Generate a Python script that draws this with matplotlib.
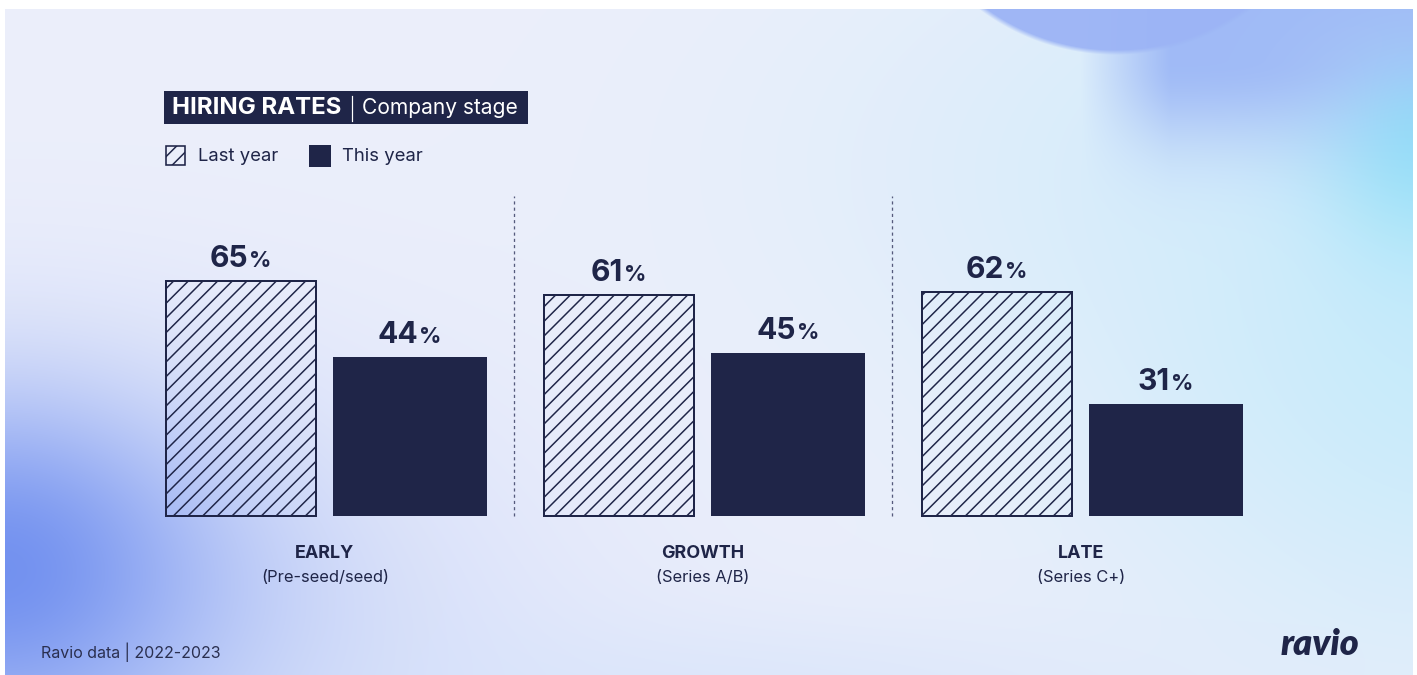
import numpy as np
import matplotlib
matplotlib.use("Agg")
import matplotlib.pyplot as plt
from matplotlib.patches import Rectangle

W, H = 1417, 675
DPI = 88

# ---- data -------------------------------------------------------------
stages = ["EARLY", "GROWTH", "LATE"]
stage_notes = ["(Pre-seed/seed)", "(Series A/B)", "(Series C+)"]
series_names = ["Last year", "This year"]
last_year = [65, 61, 62]
this_year = [44, 45, 31]

title_main = "HIRING RATES"
title_sub = "Company stage"
source_note = "Ravio data | 2022-2023"
brand = "ravio"

# ---- style ------------------------------------------------------------
NAVY = "#1f2548"
FONT = "Inter"


def pt(px):
    """pixel size -> points at the figure dpi"""
    return px * 72.0 / DPI


plt.rcParams["font.family"] = [FONT, "DejaVu Sans"]
plt.rcParams["hatch.linewidth"] = pt(1.5)
plt.rcParams["hatch.color"] = NAVY

fig = plt.figure(figsize=(W / DPI, H / DPI), dpi=DPI, facecolor="white")

# ---- soft gradient backdrop --------------------------------------------
bx0, bx1, by0, by1 = 5, 1413, 9, 675
gy, gx = np.mgrid[0:by1 - by0, 0:bx1 - bx0].astype(float)
gx += bx0
gy += by0


def hexrgb(h):
    h = h.lstrip("#")
    return np.array([int(h[i:i + 2], 16) / 255 for i in (0, 2, 4)])


img = np.ones(gx.shape + (3,)) * hexrgb("#eceffb")


def blend(alpha, color):
    global img
    a = np.clip(alpha, 0, 1)[..., None]
    img = img * (1 - a) + hexrgb(color) * a


def gauss(cx, cy, sx, sy):
    return np.exp(-(((gx - cx) / sx) ** 2 + ((gy - cy) / sy) ** 2) / 2)


# right-side cyan wash
blend(0.85 * gauss(1470, 300, 260, 240), "#bdeafb")
blend(0.6 * gauss(1250, 150, 320, 160), "#d2ecfb")
blend(0.9 * gauss(1425, 125, 75, 90), "#8fe1f8")
# broad blue band across the top right
band = np.clip((gx - 1080) / 90, 0, 1) * np.exp(-np.clip(gy - 60, 0, None) ** 2 / (2 * 60 ** 2))
band *= 1 - 0.6 * gauss(1420, 125, 70, 60)
blend(0.95 * band, "#9db8f6")
# sharp-edged blue disc at the top
ell = np.sqrt(((gx - 1115) / 214) ** 2 + ((gy + 150) / 202) ** 2)
disc = np.clip((1 - ell) / 0.025 + 0.5, 0, 1)
blend(0.95 * disc, "#9cb4f5")
# bottom-left blue glow
blend(0.65 * gauss(40, 640, 300, 180), "#adc0f7")
blend(0.92 * gauss(0, 570, 140, 115), "#6c8cef")
# faint glow along the bottom
blend(0.5 * gauss(760, 700, 300, 60), "#cfe0fb")

bg = fig.add_axes([bx0 / W, 1 - by1 / H, (bx1 - bx0) / W, (by1 - by0) / H])
bg.imshow(img, aspect="auto", interpolation="bilinear")
bg.set_axis_off()

# ---- bar chart ---------------------------------------------------------
BASE_PX = 516          # pixel row of the zero line
PX_PER_PCT = 3.615
GROUP_PX = 378
FIRST_CENTER_PX = 325

ax = fig.add_axes([0, 0, 1, 1])
ax.set_xlim(-FIRST_CENTER_PX / GROUP_PX, (W - FIRST_CENTER_PX) / GROUP_PX)
ax.set_ylim(-(H - BASE_PX) / PX_PER_PCT, BASE_PX / PX_PER_PCT)
ax.set_axis_off()
ax.patch.set_alpha(0)

x = np.arange(len(stages))
off = 84.5 / GROUP_PX
bw_last = 150 / GROUP_PX
bw_this = 154 / GROUP_PX

ax.bar(x - off, last_year, width=bw_last, facecolor="none", edgecolor=NAVY,
       linewidth=pt(2), hatch="//", zorder=3)
ax.bar(x + off, this_year, width=bw_this, color=NAVY, linewidth=0, zorder=3)

# dotted dividers between stages
div_top = (BASE_PX - 196) / PX_PER_PCT
for xd in x[:-1] + 0.5:
    ax.plot([xd, xd], [0, div_top], color="#555a7c", lw=pt(1.3),
            linestyle=(0, (2.4, 2.4)), zorder=2)

# stage captions
for xi, name, note in zip(x, stages, stage_notes):
    ax.text(xi, -(553 - BASE_PX) / PX_PER_PCT, name, ha="center", va="center",
            fontsize=pt(18), fontweight="bold", color=NAVY)
    ax.text(xi, -(577 - BASE_PX) / PX_PER_PCT, note, ha="center", va="center",
            fontsize=pt(16.5), color=NAVY)

# value labels: big number + smaller percent sign, centred on the bar
fig.canvas.draw()
renderer = fig.canvas.get_renderer()
label_gap = 14 / PX_PER_PCT
pct_gap = 1
for xs, vals in ((x - off, last_year), (x + off, this_year)):
    for xi, v in zip(xs, vals):
        t_num = ax.text(0, 0, f"{v}", ha="left", va="baseline", fontsize=pt(30),
                        fontweight="bold", color=NAVY, transform=None)
        t_pct = ax.text(0, 0, "%", ha="left", va="baseline", fontsize=pt(22),
                        fontweight="bold", color=NAVY, transform=None)
        w1 = t_num.get_window_extent(renderer).width
        w2 = t_pct.get_window_extent(renderer).width
        cx, cy = ax.transData.transform((xi, v + label_gap))
        left = cx - (w1 + pct_gap + w2) / 2
        t_num.set_position((left, cy))
        t_pct.set_position((left + w1 + pct_gap, cy))

# ---- header, legend, footer (pixel layout, y measured from the top) -----
lay = fig.add_axes([0, 0, 1, 1])
lay.set_xlim(0, W)
lay.set_ylim(H, 0)
lay.set_axis_off()
lay.patch.set_alpha(0)

t_main = lay.text(172, 108.5, title_main, ha="left", va="center",
                  fontsize=pt(24), fontweight="bold", color="white", zorder=5)
fig.canvas.draw()
inv = lay.transData.inverted()
bb = t_main.get_window_extent(renderer)
main_right = inv.transform((bb.x1, bb.y0))[0]
sep_x = main_right + 11
lay.plot([sep_x, sep_x], [96, 121], color="white", lw=pt(1.2), zorder=5)
t_sub = lay.text(sep_x + 10, 108.5, title_sub, ha="left", va="center",
                 fontsize=pt(21), color="white", zorder=5)
fig.canvas.draw()
bb = t_sub.get_window_extent(renderer)
sub_right = inv.transform((bb.x1, bb.y0))[0]
lay.add_patch(Rectangle((164, 91), sub_right + 10 - 164, 33, facecolor=NAVY,
                        edgecolor="none", zorder=4))

# legend
lay.add_patch(Rectangle((166, 146), 19, 19, facecolor="none", edgecolor=NAVY,
                        linewidth=pt(1.6), hatch="//", zorder=4))
lay.text(198, 156.5, series_names[0], ha="left", va="center", fontsize=pt(18.5),
         color=NAVY)
lay.add_patch(Rectangle((309, 145), 22, 22, facecolor=NAVY, edgecolor="none",
                        zorder=4))
lay.text(342, 156.5, series_names[1], ha="left", va="center", fontsize=pt(18.5),
         color=NAVY)

# footer
lay.text(41, 652, source_note, ha="left", va="center", fontsize=pt(16),
         color="#2a2f4f")
lay.text(1359, 655, brand, ha="right", va="baseline", fontsize=pt(36),
         fontweight="heavy", fontstyle="italic", color=NAVY,
         family=["Lato", "DejaVu Sans"])

fig.savefig("out.png", dpi=DPI, facecolor="white")
